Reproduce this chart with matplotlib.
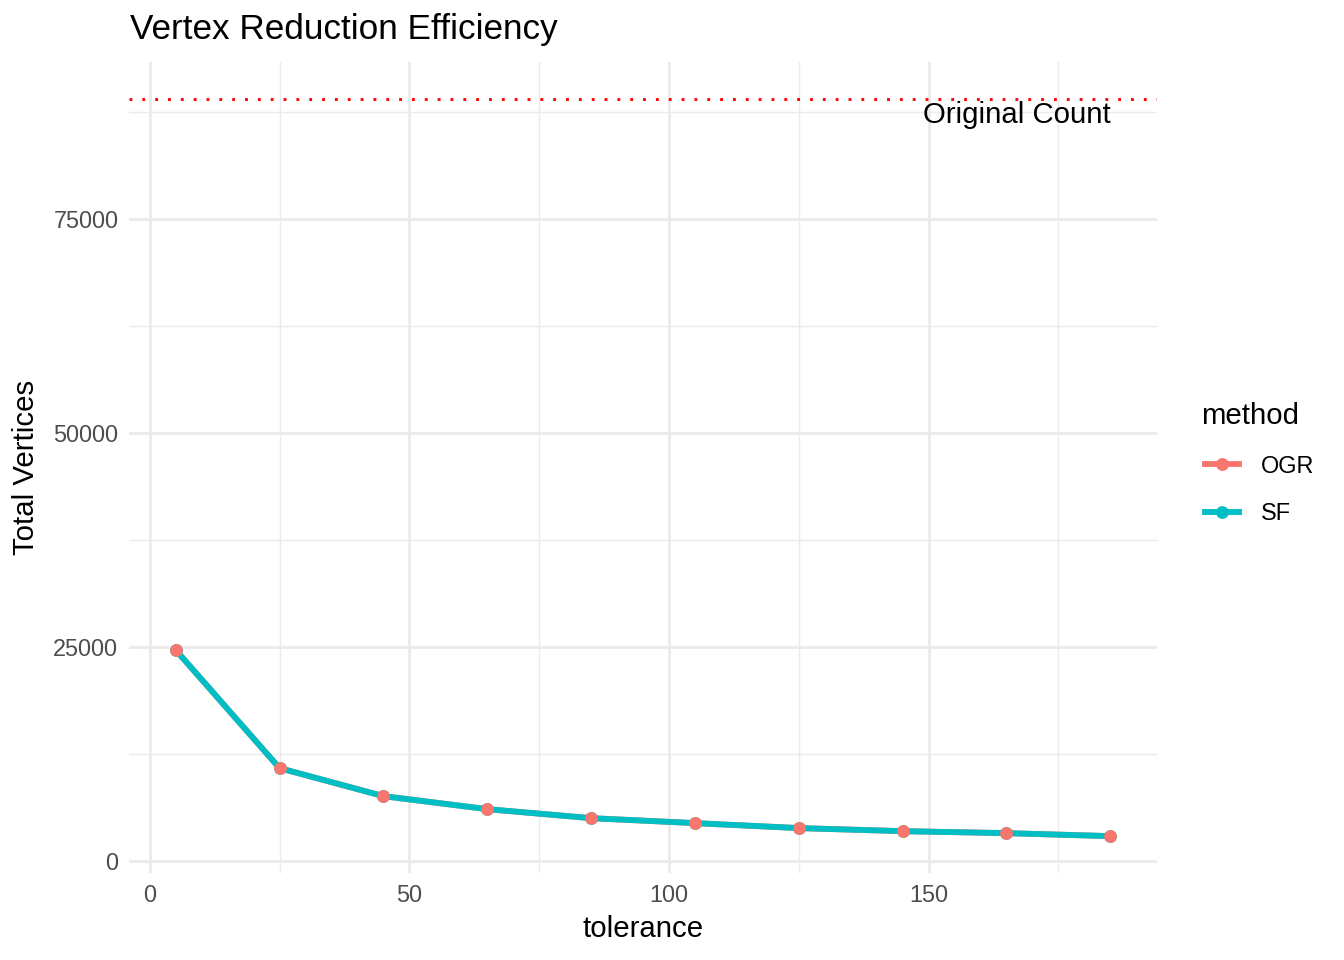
import numpy as np
import matplotlib.pyplot as plt
from matplotlib.lines import Line2D

plt.rcParams['font.family'] = ['Liberation Sans', 'DejaVu Sans']

# data
tolerance = [5, 25, 45, 65, 85, 105, 125, 145, 165, 185]
ogr_vertices = [24650, 10860, 7590, 6070, 5020, 4440, 3860, 3500, 3270, 2920]
sf_vertices = [24650, 10860, 7590, 6070, 5020, 4440, 3860, 3500, 3270, 2920]
original_count = 89000

ogr_col = '#F8766D'
sf_col = '#00BFC4'
grid_col = '#EBEBEB'

fig = plt.figure(figsize=(7, 5), dpi=192)
ax = fig.add_axes([129 / 1344, 1 - 873 / 960, (1157 - 129) / 1344, (873 - 62) / 960])

# lines first, points on top
ax.plot(tolerance, ogr_vertices, color=ogr_col, lw=2.2, zorder=3)
ax.plot(tolerance, sf_vertices, color=sf_col, lw=2.2, zorder=4)
ax.plot(tolerance, sf_vertices, 'o', color=sf_col, ms=4.8, mew=0, zorder=5)
ax.plot(tolerance, ogr_vertices, 'o', color=ogr_col, ms=4.8, mew=0, zorder=6)

ax.axhline(original_count, color='red', lw=1.07, ls=(0, (1, 3.5)), zorder=2)
ax.text(167, 87150, 'Original Count', fontsize=11, ha='center', va='center', zorder=7)

# limits like ggplot's 5% expansion
xmin, xmax = min(tolerance), max(tolerance)
xr = xmax - xmin
ax.set_xlim(xmin - 0.05 * xr, xmax + 0.05 * xr)
ymin, ymax = min(sf_vertices), original_count
yr = ymax - ymin
ax.set_ylim(ymin - 0.05 * yr, ymax + 0.05 * yr)

ax.set_xticks([0, 50, 100, 150])
ax.set_xticks([25, 75, 125, 175], minor=True)
ax.set_yticks([0, 25000, 50000, 75000])
ax.set_yticks([12500, 37500, 62500, 87500], minor=True)
ax.set_yticklabels(['0', '25000', '50000', '75000'])

ax.grid(True, which='major', color=grid_col, lw=1.07, zorder=0)
ax.grid(True, which='minor', color=grid_col, lw=0.53, zorder=0)
ax.set_axisbelow(True)
for s in ax.spines.values():
    s.set_visible(False)
ax.tick_params(which='both', length=0, labelsize=8.8, labelcolor='#4D4D4D', pad=4)

ax.set_xlabel('tolerance', fontsize=11, labelpad=3)
ax.set_ylabel('Total Vertices', fontsize=11, labelpad=5)
fig.text(130 / 1344, 1 - 30 / 960, 'Vertex Reduction Efficiency', fontsize=13.2,
         ha='left', va='center')

# legend: title as separate text, keys placed below it
fig.text(1201 / 1344, 1 - 416 / 960, 'method', fontsize=11, ha='left', va='center')
handles = [Line2D([], [], color=ogr_col, lw=2.2, marker='o', ms=4.8, mew=0),
           Line2D([], [], color=sf_col, lw=2.2, marker='o', ms=4.8, mew=0)]
fig.legend(handles, ['OGR', 'SF'], loc='center left',
           bbox_to_anchor=(1205 / 1344, 1 - 490 / 960), frameon=False,
           fontsize=8.8, handlelength=1.45, borderpad=0, borderaxespad=0,
           labelspacing=1.05, handletextpad=0.95)

fig.savefig('out.png', dpi=192)
